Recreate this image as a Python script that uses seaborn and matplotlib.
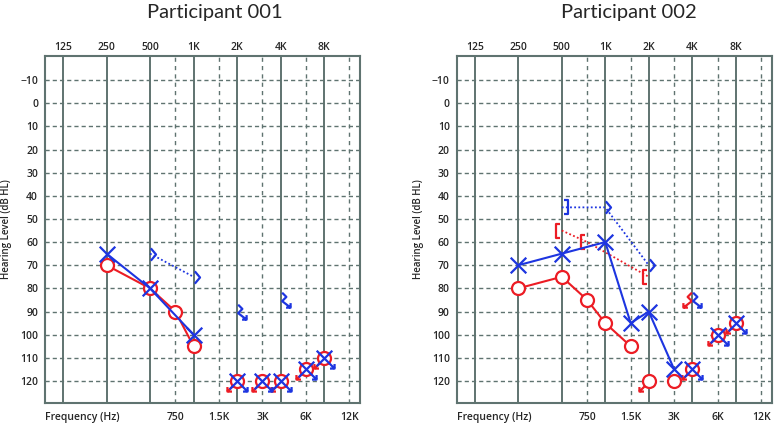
import matplotlib
matplotlib.use("Agg")
import matplotlib.pyplot as plt
from matplotlib.path import Path
import seaborn as sns

# ---------------- data ----------------
titles = ["Participant 001", "Participant 002"]
top_freqs = [125, 250, 500, 1000, 2000, 4000, 8000]
top_labels = ["125", "250", "500", "1K", "2K", "4K", "8K"]
mid_freqs = [750, 1500, 3000, 6000, 12000]
mid_labels = ["750", "1.5K", "3K", "6K", "12K"]
db_levels = list(range(-10, 121, 10))
db_labels = ["\u221210"] + [str(v) for v in range(0, 121, 10)]

# Participant 001
p1_right_air_f = [250, 500, 750, 1000]
p1_right_air = [70, 80, 90, 105]
p1_left_air_f = [250, 500, 1000]
p1_left_air = [65, 80, 100]
p1_left_bone_f = [500, 1000]
p1_left_bone = [65, 75]
p1_nr_air_f = [2000, 3000, 4000, 6000, 8000]
p1_right_nr_air = [120, 120, 120, 115, 110]
p1_left_nr_air = [120, 120, 120, 115, 110]
p1_left_nr_bone_f = [2000, 4000]
p1_left_nr_bone = [90, 85]

# Participant 002
p2_right_air_f = [250, 500, 750, 1000, 1500]
p2_right_air = [80, 75, 85, 95, 105]
p2_right_air_single_f = [3000]
p2_right_air_single = [120]
p2_left_air_f = [250, 500, 1000, 1500, 2000, 3000]
p2_left_air = [70, 65, 60, 95, 90, 115]
p2_right_nr_air_f = [2000, 4000, 6000, 8000]
p2_right_nr_air = [120, 115, 100, 95]
p2_left_nr_air_f = [4000, 6000, 8000]
p2_left_nr_air = [115, 100, 95]
p2_right_masked_bone_f = [500, 750, 2000]
p2_right_masked_bone = [55, 60, 75]
p2_left_masked_bone_f = [500]
p2_left_masked_bone = [45]
p2_left_bone_f = [1000, 2000]
p2_left_bone = [45, 70]
p2_nr_bone_f = [4000]
p2_right_nr_bone = [85]
p2_left_nr_bone = [85]

# ---------------- style ----------------
sns.set_style("white")
plt.rcParams["font.family"] = ["Open Sans", "DejaVu Sans"]

RED = "#ec1c24"
BLUE = "#1d35e0"
GRID = "#5f7370"
WEIGHT = "semibold"

E = 2.4          # common marker extent (units)
U = 4.68         # points per unit
MS = 2 * E * U

DUMMY = [(E, E), (-E, -E)]


def mk(segments):
    verts, codes = [], []
    for seg in segments:
        verts += seg
        codes += [Path.MOVETO] + [Path.LINETO] * (len(seg) - 1)
    verts += DUMMY
    codes += [Path.MOVETO, Path.MOVETO]
    return Path(verts, codes)


circle_m = Path.make_compound_path(Path.circle((0, 0), 1.0),
                                   Path(DUMMY, [Path.MOVETO, Path.MOVETO]))
x_m = mk([[(-1.2, -1.2), (1.2, 1.2)], [(-1.2, 1.2), (1.2, -1.2)]])
o_arrow_m = mk([[(-0.71, -0.71), (-1.55, -1.55)],
                [(-1.55, -0.85), (-1.55, -1.55), (-0.85, -1.55)]])
x_arrow_m = mk([[(-1.2, -1.2), (1.2, 1.2)], [(-1.2, 1.2), (1.55, -1.55)],
                [(1.55, -0.85), (1.55, -1.55), (0.85, -1.55)]])
gt_m = mk([[(0.05, 0.95), (0.85, 0.0), (0.05, -0.95)]])
gt_nr_m = mk([[(0.1, 1.2), (0.75, 0.55), (0.1, -0.1), (1.4, -1.1)],
              [(1.4, -0.4), (1.4, -1.1), (0.7, -1.1)]])
lt_nr_m = mk([[(-0.1, 1.2), (-0.75, 0.55), (-0.1, -0.1), (-1.4, -1.1)],
              [(-1.4, -0.4), (-1.4, -1.1), (-0.7, -1.1)]])
lbr_m = mk([[(-0.25, 1.1), (-0.85, 1.1), (-0.85, -1.1), (-0.25, -1.1)]])
rbr_m = mk([[(0.25, 1.1), (0.85, 1.1), (0.85, -1.1), (0.25, -1.1)]])


def line(ax, f, db, color, ls="-", lw=1.5, z=3):
    sns.lineplot(x=f, y=db, ax=ax, color=color, lw=lw, linestyle=ls,
                 sort=False, estimator=None, legend=False, zorder=z)


def marks(ax, f, db, marker, color, fill="none", z=4):
    sns.lineplot(x=f, y=db, ax=ax, linestyle="none", marker=marker, ms=MS,
                 mec=color, mfc=fill, mew=1.6, color=color,
                 sort=False, estimator=None, legend=False, zorder=z)


DOT = (0, (1.0, 1.3))

fig = plt.figure(figsize=(7.74, 4.25), dpi=100)
ax_w = 315 / 774
ax_h = (402.7 - 56) / 425
ax_b = (425 - 402.7) / 425
axes = [fig.add_axes([45 / 774, ax_b, ax_w, ax_h]),
        fig.add_axes([456.7 / 774, ax_b, ax_w, ax_h])]

for i, ax in enumerate(axes):
    ax.set_xscale("log", base=2)
    ax.set_xlim(93.7, 14200)
    ax.set_ylim(129.4, -20.4)
    for f in top_freqs:
        ax.axvline(f, color=GRID, lw=1.4, zorder=1)
    for f in mid_freqs:
        ax.axvline(f, color=GRID, lw=1.0, ls=(0, (3, 3)), zorder=1)
    for d in db_levels:
        ax.axhline(d, color=GRID, lw=1.0, ls=(0, (3, 2.2)), zorder=1)
    for s in ax.spines.values():
        s.set_color(GRID)
        s.set_linewidth(1.5)
        s.set_visible(True)
    ax.set_yticks(db_levels)
    ax.set_yticklabels(db_labels, fontweight=WEIGHT)
    ax.set_xticks(mid_freqs)
    ax.set_xticklabels(mid_labels, fontweight=WEIGHT)
    ax.xaxis.set_minor_locator(matplotlib.ticker.NullLocator())
    ax.tick_params(axis="y", length=0, pad=5, labelsize=7.5)
    ax.tick_params(axis="x", length=0, pad=6.5, labelsize=7.5)
    sec = ax.secondary_xaxis("top")
    sec.set_xticks(top_freqs)
    sec.set_xticklabels(top_labels, fontweight=WEIGHT)
    sec.xaxis.set_minor_locator(matplotlib.ticker.NullLocator())
    sec.tick_params(length=0, pad=2.5, labelsize=7.5)
    sec.spines["top"].set_visible(False)
    ax.text(0.0, -9.5 / 346.7, "Frequency (Hz)", transform=ax.transAxes,
            ha="left", va="top", fontsize=7.5, fontweight=WEIGHT)
    ax.set_xlabel("")
    ax.set_ylabel("")

# titles and y labels
fig.text(215 / 774, 1 - 18 / 425, titles[0], ha="center", va="baseline",
         fontsize=14.5, family=["Lato", "DejaVu Sans"])
fig.text(629 / 774, 1 - 18 / 425, titles[1], ha="center", va="baseline",
         fontsize=14.5, family=["Lato", "DejaVu Sans"])
ymid = 1 - (56 + 402.7) / 2 / 425
fig.text(7 / 774, ymid, "Hearing Level (dB HL)",
         rotation=90, ha="center", va="center", fontsize=7, fontweight=WEIGHT)
fig.text(418 / 774, ymid, "Hearing Level (dB HL)",
         rotation=90, ha="center", va="center", fontsize=7, fontweight=WEIGHT)

# ---- Participant 001 ----
ax = axes[0]
line(ax, p1_right_air_f, p1_right_air, RED, z=3)
marks(ax, p1_right_air_f, p1_right_air, circle_m, RED, fill="white", z=4)
marks(ax, p1_nr_air_f, p1_right_nr_air, circle_m, RED, fill="white", z=4)
marks(ax, p1_nr_air_f, p1_right_nr_air, o_arrow_m, RED, z=4)
line(ax, p1_left_air_f, p1_left_air, BLUE, z=5)
marks(ax, p1_left_air_f, p1_left_air, x_m, BLUE, z=6)
marks(ax, p1_nr_air_f, p1_left_nr_air, x_arrow_m, BLUE, z=6)
line(ax, p1_left_bone_f, p1_left_bone, BLUE, ls=DOT, lw=1.3, z=5)
marks(ax, p1_left_bone_f, p1_left_bone, gt_m, BLUE, z=6)
marks(ax, p1_left_nr_bone_f, p1_left_nr_bone, gt_nr_m, BLUE, z=6)

# ---- Participant 002 ----
ax = axes[1]
line(ax, p2_right_air_f, p2_right_air, RED, z=3)
marks(ax, p2_right_air_f, p2_right_air, circle_m, RED, fill="white", z=4)
marks(ax, p2_right_air_single_f, p2_right_air_single, circle_m, RED, fill="white", z=4)
marks(ax, p2_right_nr_air_f, p2_right_nr_air, circle_m, RED, fill="white", z=4)
marks(ax, p2_right_nr_air_f, p2_right_nr_air, o_arrow_m, RED, z=4)
line(ax, p2_right_masked_bone_f, p2_right_masked_bone, RED, ls=DOT, lw=1.3, z=3)
marks(ax, p2_right_masked_bone_f, p2_right_masked_bone, lbr_m, RED, z=4)
marks(ax, p2_nr_bone_f, p2_right_nr_bone, lt_nr_m, RED, z=4)
line(ax, p2_left_air_f, p2_left_air, BLUE, z=5)
marks(ax, p2_left_air_f, p2_left_air, x_m, BLUE, z=6)
marks(ax, p2_left_nr_air_f, p2_left_nr_air, x_arrow_m, BLUE, z=6)
line(ax, p2_left_masked_bone_f + p2_left_bone_f,
     p2_left_masked_bone + p2_left_bone, BLUE, ls=DOT, lw=1.3, z=5)
marks(ax, p2_left_masked_bone_f, p2_left_masked_bone, rbr_m, BLUE, z=6)
marks(ax, p2_left_bone_f, p2_left_bone, gt_m, BLUE, z=6)
marks(ax, p2_nr_bone_f, p2_left_nr_bone, gt_nr_m, BLUE, z=6)

fig.savefig("out.png", dpi=100)
